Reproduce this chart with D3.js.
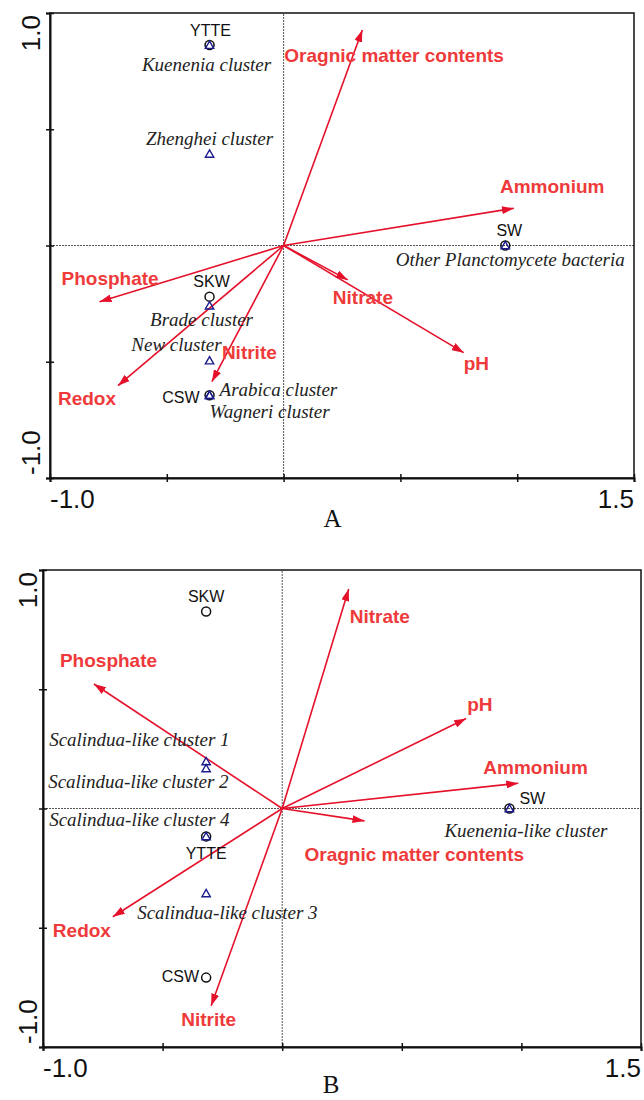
<!DOCTYPE html>
<html>
<head>
<meta charset="utf-8">
<script src="https://cdn.jsdelivr.net/npm/d3@7"></script>
<style>
  html, body { margin: 0; padding: 0; background: #fff; }
  svg { display: block; }
</style>
</head>
<body>
<script>
// ---------------- DATA ----------------
// Panel A
const envVarsA = ["Oragnic matter contents", "Ammonium", "Phosphate", "Redox", "Nitrite", "Nitrate", "pH"];
const envXA = [0.337, 0.986, -0.788, -0.709, -0.307, 0.275, 0.771];
const envYA = [0.927, 0.160, -0.242, -0.603, -0.586, -0.148, -0.461];
const sitesA = ["YTTE", "SKW", "CSW", "SW"];
const siteXA = [-0.317, -0.317, -0.317, 0.949];
const siteYA = [0.862, -0.220, -0.644, 0.000];
const speciesA = ["Kuenenia cluster", "Zhenghei cluster", "Other Planctomycete bacteria", "Brade cluster", "New cluster", "Arabica cluster", "Wagneri cluster"];
const specXA = [-0.317, -0.317, 0.949, -0.317, -0.317, -0.317, -0.317];
const specYA = [0.862, 0.394, 0.000, -0.259, -0.495, -0.644, -0.644];

// Panel B
const envVarsB = ["Nitrate", "Phosphate", "pH", "Ammonium", "Oragnic matter contents", "Redox", "Nitrite"];
const envXB = [0.278, -0.787, 0.769, 0.987, 0.344, -0.708, -0.297];
const envYB = [0.920, 0.522, 0.377, 0.106, -0.052, -0.454, -0.827];
const sitesB = ["SKW", "YTTE", "CSW", "SW"];
const siteXB = [-0.318, -0.318, -0.318, 0.950];
const siteYB = [0.826, -0.117, -0.709, 0.000];
const speciesB = ["Scalindua-like cluster 1", "Scalindua-like cluster 2", "Scalindua-like cluster 4", "Scalindua-like cluster 3", "Kuenenia-like cluster"];
const specXB = [-0.318, -0.318, -0.318, -0.318, 0.950];
const specYB = [0.197, 0.168, -0.117, -0.356, 0.000];

// Axes
const xDomain = [-1.0, 1.5];
const yDomain = [-1.0, 1.0];
const xTicks = [-1.0, -0.5, 0, 0.5, 1.0, 1.5];
const yTicks = [-1.0, -0.5, 0, 0.5, 1.0];
const xEndLabels = ["-1.0", "1.5"];
const yEndLabels = ["-1.0", "1.0"];
const panelTitles = ["A", "B"];

// ---------------- LAYOUT (pixel offsets, separate from data) ----------------
const layout = {
  A: {
    frame: { left: 50, right: 634, top: 13, bottom: 478 },
    tickLabelBaseline: 508, titleBaseline: 527, yLabelX: 40,
    env: {
      "Oragnic matter contents": [-78, 32],
      "Ammonium": [-14, -15],
      "Phosphate": [-38, -17],
      "Redox": [-60, 19],
      "Nitrite": [10, -23],
      "Nitrate": [-15, 24],
      "pH": [0, 17]
    },
    site: {
      "YTTE": ["middle", 1, -9],
      "SKW": ["middle", 2, -10],
      "CSW": ["end", -10, 8],
      "SW": ["middle", 4, -10]
    },
    spec: {
      "Kuenenia cluster": ["middle", -3, 26],
      "Zhenghei cluster": ["middle", 0, -9],
      "Other Planctomycete bacteria": ["middle", 5, 20],
      "Brade cluster": ["middle", -8, 20],
      "New cluster": ["end", 12, -10],
      "Arabica cluster": ["start", 10, 1],
      "Wagneri cluster": ["start", 0, 23]
    }
  },
  B: {
    frame: { left: 43, right: 641, top: 570, bottom: 1047 },
    tickLabelBaseline: 1077, titleBaseline: 1093, yLabelX: 37,
    env: {
      "Nitrate": [1, 34],
      "Phosphate": [-34, -17],
      "pH": [1, -8],
      "Ammonium": [-35, -9],
      "Oragnic matter contents": [-60, 40],
      "Redox": [-60, 20],
      "Nitrite": [-30, 20]
    },
    site: {
      "SKW": ["middle", 0, -9],
      "YTTE": ["middle", 0, 23],
      "CSW": ["end", -7, 4],
      "SW": ["start", 10, -5]
    },
    spec: {
      "Scalindua-like cluster 1": ["start", -157, -16],
      "Scalindua-like cluster 2": ["start", -158, 20],
      "Scalindua-like cluster 4": ["start", -157, -10],
      "Scalindua-like cluster 3": ["start", -69, 26],
      "Kuenenia-like cluster": ["start", -65, 28]
    }
  }
};

const arrowColor = "#e5112b";
const envTextColor = "#ee3a3a";
const triColor = "#1c1c8f";

// ---------------- DRAW ----------------
const svg = d3.select("body").append("svg")
  .attr("width", 644).attr("height", 1100);

const defs = svg.append("defs");
defs.append("marker")
  .attr("id", "arrowhead")
  .attr("markerUnits", "userSpaceOnUse")
  .attr("viewBox", "0 0 12 8")
  .attr("refX", 12).attr("refY", 4)
  .attr("markerWidth", 12).attr("markerHeight", 8)
  .attr("orient", "auto")
  .append("path")
  .attr("d", "M0,0 L12,4 L0,8 Z")
  .attr("fill", arrowColor);

function drawPanel(key, title, envNames, envX, envY, siteNames, siteX, siteY, specNames, specX, specY) {
  const L = layout[key];
  const f = L.frame;
  const x = d3.scaleLinear().domain(xDomain).range([f.left, f.right]);
  const y = d3.scaleLinear().domain(yDomain).range([f.bottom, f.top]);
  const g = svg.append("g");

  // zero lines (dotted)
  g.append("line")
    .attr("x1", x(xDomain[0])).attr("x2", x(xDomain[1]))
    .attr("y1", y(0)).attr("y2", y(0))
    .attr("stroke", "#555").attr("stroke-width", 1).attr("stroke-dasharray", "2,1");
  g.append("line")
    .attr("x1", x(0)).attr("x2", x(0))
    .attr("y1", y(yDomain[0])).attr("y2", y(yDomain[1]))
    .attr("stroke", "#555").attr("stroke-width", 1).attr("stroke-dasharray", "2,1");

  // frame
  g.append("rect")
    .attr("x", f.left).attr("y", f.top)
    .attr("width", f.right - f.left).attr("height", f.bottom - f.top)
    .attr("fill", "none").attr("stroke", "#111").attr("stroke-width", 1.5);

  // axes (ticks crossing the frame)
  const xAxis = g.append("g")
    .attr("transform", `translate(0,${f.bottom})`)
    .call(d3.axisBottom(x).tickValues(xTicks).tickSize(4).tickFormat(""));
  xAxis.select(".domain").attr("stroke", "#111").attr("stroke-width", 2);
  xAxis.selectAll(".tick line").attr("y1", -4).attr("y2", 4).attr("stroke", "#111").attr("stroke-width", 1.5);

  const yAxis = g.append("g")
    .attr("transform", `translate(${f.left},0)`)
    .call(d3.axisLeft(y).tickValues(yTicks).tickSize(4).tickFormat(""));
  yAxis.select(".domain").attr("stroke", "#111").attr("stroke-width", 2);
  yAxis.selectAll(".tick line").attr("x1", -4).attr("x2", 4).attr("stroke", "#111").attr("stroke-width", 1.5);

  // end tick labels
  g.append("text")
    .attr("x", x(xDomain[0])).attr("y", L.tickLabelBaseline)
    .attr("text-anchor", "start")
    .attr("font-family", "Liberation Sans, Arial, sans-serif").attr("font-size", 26)
    .attr("fill", "#111").text(xEndLabels[0]);
  g.append("text")
    .attr("x", x(xDomain[1])).attr("y", L.tickLabelBaseline)
    .attr("text-anchor", "end")
    .attr("font-family", "Liberation Sans, Arial, sans-serif").attr("font-size", 26)
    .attr("fill", "#111").text(xEndLabels[1]);
  g.append("text")
    .attr("transform", `translate(${L.yLabelX},${y(yDomain[0]) - 3}) rotate(-90)`)
    .attr("text-anchor", "start")
    .attr("font-family", "Liberation Sans, Arial, sans-serif").attr("font-size", 26)
    .attr("fill", "#111").text(yEndLabels[0]);
  g.append("text")
    .attr("transform", `translate(${L.yLabelX},${y(yDomain[1]) + 2}) rotate(-90)`)
    .attr("text-anchor", "end")
    .attr("font-family", "Liberation Sans, Arial, sans-serif").attr("font-size", 26)
    .attr("fill", "#111").text(yEndLabels[1]);

  // panel title
  g.append("text")
    .attr("x", x(0) + 49).attr("y", L.titleBaseline)
    .attr("text-anchor", "middle")
    .attr("font-family", "Liberation Serif, Times New Roman, serif").attr("font-size", 25)
    .attr("fill", "#111").text(title);

  // arrows
  const env = envNames.map((n, i) => ({ name: n, x: envX[i], y: envY[i] }));
  g.selectAll("line.arrow").data(env).enter().append("line")
    .attr("class", "arrow")
    .attr("x1", x(0)).attr("y1", y(0))
    .attr("x2", d => x(d.x)).attr("y2", d => y(d.y))
    .attr("stroke", arrowColor).attr("stroke-width", 1.6)
    .attr("marker-end", "url(#arrowhead)");
  g.selectAll("text.env").data(env).enter().append("text")
    .attr("class", "env")
    .attr("x", d => x(d.x) + L.env[d.name][0])
    .attr("y", d => y(d.y) + L.env[d.name][1])
    .attr("font-family", "Liberation Sans, Arial, sans-serif")
    .attr("font-weight", "bold").attr("font-size", 19)
    .attr("fill", envTextColor)
    .text(d => d.name);

  // sites (circles)
  const sites = siteNames.map((n, i) => ({ name: n, x: siteX[i], y: siteY[i] }));
  g.selectAll("circle.site").data(sites).enter().append("circle")
    .attr("class", "site")
    .attr("cx", d => x(d.x)).attr("cy", d => y(d.y)).attr("r", 4.5)
    .attr("fill", "none").attr("stroke", "#111").attr("stroke-width", 1.5);

  // species (triangles)
  const spec = specNames.map((n, i) => ({ name: n, x: specX[i], y: specY[i] }));
  g.selectAll("path.spec").data(spec).enter().append("path")
    .attr("class", "spec")
    .attr("transform", d => `translate(${x(d.x)},${y(d.y)})`)
    .attr("d", "M0,-4 L4.2,3.3 L-4.2,3.3 Z")
    .attr("fill", "none").attr("stroke", triColor).attr("stroke-width", 1.4);

  g.selectAll("text.site").data(sites).enter().append("text")
    .attr("class", "site")
    .attr("x", d => x(d.x) + L.site[d.name][1])
    .attr("y", d => y(d.y) + L.site[d.name][2])
    .attr("text-anchor", d => L.site[d.name][0])
    .attr("font-family", "Liberation Sans, Arial, sans-serif").attr("font-size", 16)
    .attr("fill", "#111")
    .text(d => d.name);

  g.selectAll("text.spec").data(spec).enter().append("text")
    .attr("class", "spec")
    .attr("x", d => x(d.x) + L.spec[d.name][1])
    .attr("y", d => y(d.y) + L.spec[d.name][2])
    .attr("text-anchor", d => L.spec[d.name][0])
    .attr("font-family", "Liberation Serif, Times New Roman, serif")
    .attr("font-style", "italic").attr("font-size", 19)
    .attr("fill", "#222")
    .text(d => d.name);
}

drawPanel("A", panelTitles[0], envVarsA, envXA, envYA, sitesA, siteXA, siteYA, speciesA, specXA, specYA);
drawPanel("B", panelTitles[1], envVarsB, envXB, envYB, sitesB, siteXB, siteYB, speciesB, specXB, specYB);
</script>
</body>
</html>
